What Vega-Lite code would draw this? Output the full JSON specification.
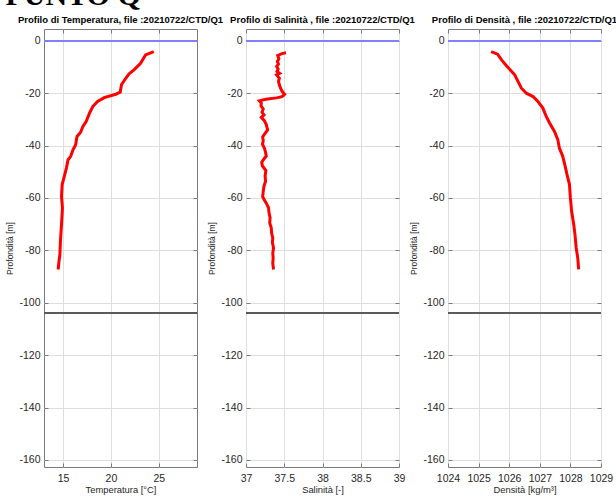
{
  "$schema": "https://vega.github.io/schema/vega-lite/v6.json",
  "background": "white",
  "padding": {"left": 5, "top": -20, "right": 0, "bottom": 0},
  "title": {"text": "PUNTO Q", "anchor": "start", "frame": "bounds", "font": "Liberation Serif", "fontSize": 30, "fontWeight": "bold", "color": "#000000", "offset": 4},
  "config": {
    "view": {"stroke": "#7a7a7a", "strokeWidth": 1},
    "axis": {"labelFont": "Liberation Sans", "labelFontSize": 10.5, "labelColor": "#262626", "titleFont": "Liberation Sans", "titleFontWeight": "normal", "titleColor": "#262626", "titleFontSize": 9.4, "domain": false, "tickColor": "#7a7a7a", "tickSize": -4, "gridColor": "#dedede", "gridWidth": 1, "labelOverlap": false, "labelFlush": false, "labelExpr": "'' + datum.value"},
    "axisX": {"labelPadding": 10, "titlePadding": 2},
    "axisY": {"titleFontSize": 8.5, "labelPadding": 8},
    "title": {"font": "Liberation Sans", "fontSize": 9.5, "fontWeight": "bold", "color": "#000000", "offset": 4}
  },
  "datasets": {
    "temp": [
      {"t": 24.48, "d": -4.1}, {"t": 23.62, "d": -5.4}, {"t": 23.1, "d": -8.6}, {"t": 22.41, "d": -11.1}, {"t": 21.9, "d": -12.6}, {"t": 21.55, "d": -14.3}, {"t": 21.1, "d": -16.8}, {"t": 20.97, "d": -19.6}, {"t": 20.5, "d": -20.4}, {"t": 19.3, "d": -21.7}, {"t": 18.6, "d": -23.2}, {"t": 18.1, "d": -25.1}, {"t": 17.76, "d": -27.6}, {"t": 17.41, "d": -30.8}, {"t": 17.07, "d": -32.7}, {"t": 16.83, "d": -34.9}, {"t": 16.45, "d": -36.5}, {"t": 16.31, "d": -39.7}, {"t": 16.03, "d": -41.6}, {"t": 15.79, "d": -44.1}, {"t": 15.52, "d": -45.4}, {"t": 15.34, "d": -48.6}, {"t": 15.17, "d": -51.1}, {"t": 14.9, "d": -54.9}, {"t": 14.83, "d": -59.4}, {"t": 14.93, "d": -63.8}, {"t": 14.83, "d": -70.2}, {"t": 14.72, "d": -76.5}, {"t": 14.66, "d": -81.6}, {"t": 14.55, "d": -84.8}, {"t": 14.48, "d": -87.3}
    ],
    "sal": [
      {"s": 37.523, "d": -4.6}, {"s": 37.47, "d": -4.9}, {"s": 37.414, "d": -5.6}, {"s": 37.43, "d": -6.8}, {"s": 37.41, "d": -7.9}, {"s": 37.425, "d": -8.9}, {"s": 37.4, "d": -9.8}, {"s": 37.42, "d": -10.8}, {"s": 37.405, "d": -11.7}, {"s": 37.44, "d": -12.4}, {"s": 37.4, "d": -13.0}, {"s": 37.436, "d": -14.3}, {"s": 37.425, "d": -15.5}, {"s": 37.436, "d": -16.8}, {"s": 37.45, "d": -18.0}, {"s": 37.47, "d": -19.2}, {"s": 37.505, "d": -20.4}, {"s": 37.47, "d": -21.3}, {"s": 37.4, "d": -21.8}, {"s": 37.26, "d": -22.3}, {"s": 37.174, "d": -22.9}, {"s": 37.2, "d": -23.8}, {"s": 37.196, "d": -24.8}, {"s": 37.225, "d": -26.0}, {"s": 37.21, "d": -27.3}, {"s": 37.235, "d": -28.3}, {"s": 37.2, "d": -29.2}, {"s": 37.24, "d": -30.5}, {"s": 37.265, "d": -32.0}, {"s": 37.283, "d": -34.0}, {"s": 37.245, "d": -35.5}, {"s": 37.218, "d": -36.7}, {"s": 37.225, "d": -38.2}, {"s": 37.215, "d": -39.5}, {"s": 37.24, "d": -40.9}, {"s": 37.255, "d": -42.5}, {"s": 37.265, "d": -44.0}, {"s": 37.23, "d": -45.3}, {"s": 37.205, "d": -46.4}, {"s": 37.215, "d": -47.8}, {"s": 37.26, "d": -49.5}, {"s": 37.25, "d": -51.5}, {"s": 37.255, "d": -53.7}, {"s": 37.235, "d": -55.5}, {"s": 37.225, "d": -57.5}, {"s": 37.218, "d": -59.5}, {"s": 37.24, "d": -60.8}, {"s": 37.265, "d": -62.0}, {"s": 37.295, "d": -63.8}, {"s": 37.3, "d": -65.5}, {"s": 37.315, "d": -67.6}, {"s": 37.31, "d": -69.5}, {"s": 37.33, "d": -71.4}, {"s": 37.335, "d": -73.5}, {"s": 37.35, "d": -75.2}, {"s": 37.345, "d": -77.0}, {"s": 37.36, "d": -79.1}, {"s": 37.35, "d": -81.0}, {"s": 37.355, "d": -82.9}, {"s": 37.35, "d": -85.0}, {"s": 37.36, "d": -87.3}
    ],
    "dens": [
      {"r": 1025.41, "d": -4.1}, {"r": 1025.62, "d": -5.1}, {"r": 1025.75, "d": -7.3}, {"r": 1025.91, "d": -9.5}, {"r": 1026.08, "d": -11.7}, {"r": 1026.18, "d": -13.0}, {"r": 1026.29, "d": -15.6}, {"r": 1026.4, "d": -18.1}, {"r": 1026.56, "d": -20.0}, {"r": 1026.78, "d": -21.3}, {"r": 1026.94, "d": -23.2}, {"r": 1027.1, "d": -25.7}, {"r": 1027.21, "d": -28.9}, {"r": 1027.32, "d": -31.4}, {"r": 1027.48, "d": -34.6}, {"r": 1027.59, "d": -37.8}, {"r": 1027.64, "d": -41.0}, {"r": 1027.75, "d": -44.1}, {"r": 1027.83, "d": -47.9}, {"r": 1027.89, "d": -51.1}, {"r": 1027.97, "d": -54.9}, {"r": 1028.0, "d": -60.0}, {"r": 1028.04, "d": -65.1}, {"r": 1028.11, "d": -70.2}, {"r": 1028.15, "d": -74.0}, {"r": 1028.19, "d": -79.1}, {"r": 1028.24, "d": -82.9}, {"r": 1028.27, "d": -87.3}
    ]
  },
  "bounds": "flush",
  "spacing": 49,
  "hconcat": [
    {
      "width": 153, "height": 438,
      "data": {"name": "temp"},
      "title": {"text": "Profilo di Temperatura, file :20210722/CTD/Q1"},
      "resolve": {"axis": {"x": "independent", "y": "independent"}},
      "layer": [
        {"mark": {"type": "rule", "color": "#8080ff", "strokeWidth": 1}, "encoding": {"y": {"datum": 0, "type": "quantitative", "scale": {"domain": [-162.7, 4.5], "nice": false, "zero": false}, "axis": null}}},
        {"mark": {"type": "rule", "color": "#5a5a5a", "strokeWidth": 1}, "encoding": {"y": {"datum": -104, "type": "quantitative", "scale": {"domain": [-162.7, 4.5], "nice": false, "zero": false}, "axis": null}}},
        {"mark": {"type": "line", "strokeOpacity": 0}, "encoding": {
          "x": {"field": "t", "type": "quantitative", "scale": {"domain": [13, 29], "nice": false, "zero": false}, "axis": {"orient": "top", "values": [15, 20, 25], "labels": false, "title": null, "grid": false}},
          "y": {"field": "d", "type": "quantitative", "scale": {"domain": [-162.7, 4.5], "nice": false, "zero": false}, "axis": {"orient": "right", "values": [-160, -140, -120, -100, -80, -60, -40, -20, 0], "labels": false, "title": null, "grid": false}},
          "order": {"field": "d", "sort": "descending"}}},
        {"mark": {"type": "line", "color": "#ff0000", "strokeWidth": 3}, "encoding": {
          "x": {"field": "t", "type": "quantitative", "scale": {"domain": [13, 29], "nice": false, "zero": false}, "axis": {"orient": "bottom", "values": [15, 20, 25], "title": "Temperatura [°C]", "grid": true}},
          "y": {"field": "d", "type": "quantitative", "scale": {"domain": [-162.7, 4.5], "nice": false, "zero": false}, "axis": {"orient": "left", "values": [-160, -140, -120, -100, -80, -60, -40, -20, 0], "title": "Profondità  [m]", "grid": true}},
          "order": {"field": "d", "sort": "descending"}}}
      ]
    },
    {
      "width": 153, "height": 438,
      "data": {"name": "sal"},
      "title": {"text": "Profilo di Salinità , file :20210722/CTD/Q1"},
      "resolve": {"axis": {"x": "independent", "y": "independent"}},
      "layer": [
        {"mark": {"type": "rule", "color": "#8080ff", "strokeWidth": 1}, "encoding": {"y": {"datum": 0, "type": "quantitative", "scale": {"domain": [-162.7, 4.5], "nice": false, "zero": false}, "axis": null}}},
        {"mark": {"type": "rule", "color": "#5a5a5a", "strokeWidth": 1}, "encoding": {"y": {"datum": -104, "type": "quantitative", "scale": {"domain": [-162.7, 4.5], "nice": false, "zero": false}, "axis": null}}},
        {"mark": {"type": "line", "strokeOpacity": 0}, "encoding": {
          "x": {"field": "s", "type": "quantitative", "scale": {"domain": [37, 39], "nice": false, "zero": false}, "axis": {"orient": "top", "values": [37, 37.5, 38, 38.5, 39], "labels": false, "title": null, "grid": false}},
          "y": {"field": "d", "type": "quantitative", "scale": {"domain": [-162.7, 4.5], "nice": false, "zero": false}, "axis": {"orient": "right", "values": [-160, -140, -120, -100, -80, -60, -40, -20, 0], "labels": false, "title": null, "grid": false}},
          "order": {"field": "d", "sort": "descending"}}},
        {"mark": {"type": "line", "color": "#ff0000", "strokeWidth": 3}, "encoding": {
          "x": {"field": "s", "type": "quantitative", "scale": {"domain": [37, 39], "nice": false, "zero": false}, "axis": {"orient": "bottom", "values": [37, 37.5, 38, 38.5, 39], "title": "Salinità [-]", "grid": true}},
          "y": {"field": "d", "type": "quantitative", "scale": {"domain": [-162.7, 4.5], "nice": false, "zero": false}, "axis": {"orient": "left", "values": [-160, -140, -120, -100, -80, -60, -40, -20, 0], "title": "Profondità  [m]", "grid": true}},
          "order": {"field": "d", "sort": "descending"}}}
      ]
    },
    {
      "width": 153, "height": 438,
      "data": {"name": "dens"},
      "title": {"text": "Profilo di Densità , file :20210722/CTD/Q1"},
      "resolve": {"axis": {"x": "independent", "y": "independent"}},
      "layer": [
        {"mark": {"type": "rule", "color": "#8080ff", "strokeWidth": 1}, "encoding": {"y": {"datum": 0, "type": "quantitative", "scale": {"domain": [-162.7, 4.5], "nice": false, "zero": false}, "axis": null}}},
        {"mark": {"type": "rule", "color": "#5a5a5a", "strokeWidth": 1}, "encoding": {"y": {"datum": -104, "type": "quantitative", "scale": {"domain": [-162.7, 4.5], "nice": false, "zero": false}, "axis": null}}},
        {"mark": {"type": "line", "strokeOpacity": 0}, "encoding": {
          "x": {"field": "r", "type": "quantitative", "scale": {"domain": [1024, 1029], "nice": false, "zero": false}, "axis": {"orient": "top", "values": [1024, 1025, 1026, 1027, 1028, 1029], "labels": false, "title": null, "grid": false}},
          "y": {"field": "d", "type": "quantitative", "scale": {"domain": [-162.7, 4.5], "nice": false, "zero": false}, "axis": {"orient": "right", "values": [-160, -140, -120, -100, -80, -60, -40, -20, 0], "labels": false, "title": null, "grid": false}},
          "order": {"field": "d", "sort": "descending"}}},
        {"mark": {"type": "line", "color": "#ff0000", "strokeWidth": 3}, "encoding": {
          "x": {"field": "r", "type": "quantitative", "scale": {"domain": [1024, 1029], "nice": false, "zero": false}, "axis": {"orient": "bottom", "values": [1024, 1025, 1026, 1027, 1028, 1029], "title": "Densità [kg/m³]", "grid": true}},
          "y": {"field": "d", "type": "quantitative", "scale": {"domain": [-162.7, 4.5], "nice": false, "zero": false}, "axis": {"orient": "left", "values": [-160, -140, -120, -100, -80, -60, -40, -20, 0], "title": "Profondità  [m]", "grid": true}},
          "order": {"field": "d", "sort": "descending"}}}
      ]
    }
  ]
}
